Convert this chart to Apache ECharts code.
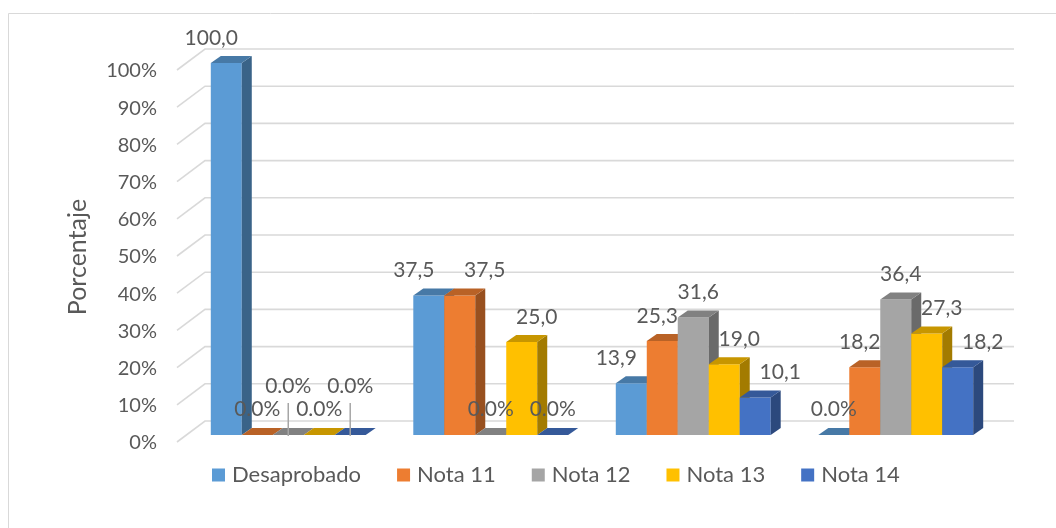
<!DOCTYPE html>
<html>
<head>
<meta charset="utf-8">
<script src="https://cdn.jsdelivr.net/npm/echarts@6/dist/echarts.min.js"></script>
<style>
  html, body { margin: 0; padding: 0; background: #fff; }
  #chart { width: 1056px; height: 528px; }
</style>
</head>
<body>
<div id="chart"></div>
<script>
// data
const categories = ['1', '2', '3', '4'];
const seriesNames = ['Desaprobado', 'Nota 11', 'Nota 12', 'Nota 13', 'Nota 14'];
const desaprobado = [100.0, 37.5, 13.9, 0.0];
const nota11 = [0.0, 37.5, 25.3, 18.2];
const nota12 = [0.0, 0.0, 31.6, 36.4];
const nota13 = [0.0, 25.0, 19.0, 27.3];
const nota14 = [0.0, 0.0, 10.1, 18.2];
const yTicks = [0, 10, 20, 30, 40, 50, 60, 70, 80, 90, 100];

const values = [desaprobado, nota11, nota12, nota13, nota14];
const colors = ['#5B9BD5', '#ED7D31', '#A5A5A5', '#FFC000', '#4472C4'];
const FONT = 'Lato';
const TEXT = '#595959';

function shade(hex, f) {
  const n = parseInt(hex.slice(1), 16);
  const r = Math.round(((n >> 16) & 255) * f);
  const g = Math.round(((n >> 8) & 255) * f);
  const b = Math.round((n & 255) * f);
  return 'rgb(' + r + ',' + g + ',' + b + ')';
}

// zero labels that would collide with the previous zero label get lifted
function isRaised(s, g) {
  if (s === 0 || values[s][g] !== 0) return false;
  if (values[s - 1][g] !== 0) return false;
  return !isRaised(s - 1, g);
}

function makeBarRender(s) {
  return function (params, api) {
    const g = api.value(0);
    const v = api.value(1);
    const base = api.coord([g, 0]);
    const top = api.coord([g, v]);
    const band = api.size([1, 0])[0];
    const w = band * 0.153;
    const x0 = base[0] - 2.5 * w + s * w;
    const yb = base[1];
    const yt = top[1];
    const dx = 10, dy = -7;
    const c = colors[s];
    const children = [
      {
        type: 'rect',
        shape: { x: x0, y: yt, width: w, height: yb - yt },
        style: { fill: c }
      },
      {
        type: 'polygon',
        shape: { points: [[x0 + w, yt], [x0 + w + dx, yt + dy], [x0 + w + dx, yb + dy], [x0 + w, yb]] },
        style: { fill: shade(c, 0.64) }
      },
      {
        type: 'polygon',
        shape: { points: [[x0, yt], [x0 + w, yt], [x0 + w + dx, yt + dy], [x0 + dx, yt + dy]] },
        style: { fill: shade(c, 0.78) }
      }
    ];
    if (v > 0) {
      // push a label aside when the previous bar has nearly the same height
      const clash = s > 0 && Math.abs(values[s - 1][g] - v) < 4 ? 30 : 0;
      children.push({
        type: 'text',
        z2: 100,
        style: {
          text: v.toFixed(1).replace('.', ','),
          x: x0 + w / 2 + dx / 2 + (s - 2) * 10 + clash,
          y: yt - 25,
          align: 'center',
          verticalAlign: 'middle',
          fontSize: 21,
          fontFamily: FONT,
          fill: TEXT
        }
      });
    } else {
      const raised = isRaised(s, g);
      const cx = x0 + w / 2;
      if (raised) {
        children.push({
          type: 'line',
          z2: 99,
          shape: { x1: cx, y1: yb - 32, x2: cx, y2: yb + 1 },
          style: { stroke: '#a6a6a6', lineWidth: 1.5 }
        });
      }
      children.push({
        type: 'text',
        z2: 100,
        style: {
          text: '0.0%',
          x: cx,
          y: raised ? yb - 49 : yb - 26,
          align: 'center',
          verticalAlign: 'middle',
          fontSize: 21,
          fontFamily: FONT,
          fill: TEXT
        }
      });
    }
    return { type: 'group', children: children };
  };
}

function renderGridLine(params, api) {
  const cs = params.coordSys;
  const y = api.coord([0, api.value(1)])[1];
  return {
    type: 'polyline',
    shape: { points: [[cs.x - 10, y + 7], [cs.x + 18, y - 14], [cs.x + cs.width + 17, y - 14]] },
    style: { fill: 'none', stroke: '#d9d9d9', lineWidth: 1.6 }
  };
}

const chart = echarts.init(document.getElementById('chart'), null, { renderer: 'canvas' });

const series = [
  {
    type: 'custom',
    name: 'grid',
    xAxisIndex: 0,
    yAxisIndex: 0,
    silent: true,
    z: 1,
    renderItem: renderGridLine,
    data: yTicks.map(t => [0, t])
  }
];
seriesNames.forEach((name, s) => {
  series.push({
    type: 'custom',
    name: name,
    xAxisIndex: 0,
    yAxisIndex: 0,
    z: 2,
    itemStyle: { color: colors[s] },
    renderItem: makeBarRender(s),
    data: values[s].map((v, g) => [g, v])
  });
});

chart.setOption({
  animation: false,
  backgroundColor: '#fff',
  graphic: [
    {
      type: 'rect',
      z: -10,
      shape: { x: 8.5, y: 13.5, width: 1100, height: 600 },
      style: { fill: 'none', stroke: '#d9d9d9', lineWidth: 1 }
    }
  ],
  legend: {
    data: seriesNames,
    left: 207,
    top: 459,
    icon: 'rect',
    itemWidth: 13,
    itemHeight: 13,
    itemGap: 36,
    textStyle: { fontSize: 22, fontFamily: FONT, color: TEXT, padding: [0, 0, 0, 2] }
  },
  grid: [
    { left: 187, right: 59, top: 63, bottom: 93 },
    { left: 165, right: 59, top: 71, bottom: 85 }
  ],
  xAxis: [
    { type: 'category', gridIndex: 0, data: categories, show: false },
    { type: 'category', gridIndex: 1, data: categories, show: false }
  ],
  yAxis: [
    { type: 'value', gridIndex: 0, min: 0, max: 100, interval: 10, show: false },
    {
      type: 'value',
      gridIndex: 1,
      min: 0,
      max: 100,
      interval: 10,
      name: 'Porcentaje',
      nameLocation: 'middle',
      nameGap: 75,
      nameTextStyle: { fontSize: 25, fontFamily: FONT, color: TEXT },
      axisLine: { show: false },
      axisTick: { show: false },
      splitLine: { show: false },
      axisLabel: {
        margin: 8,
        fontSize: 20,
        fontFamily: FONT,
        color: TEXT,
        formatter: '{value}%'
      }
    }
  ],
  series: series
});
</script>
</body>
</html>
